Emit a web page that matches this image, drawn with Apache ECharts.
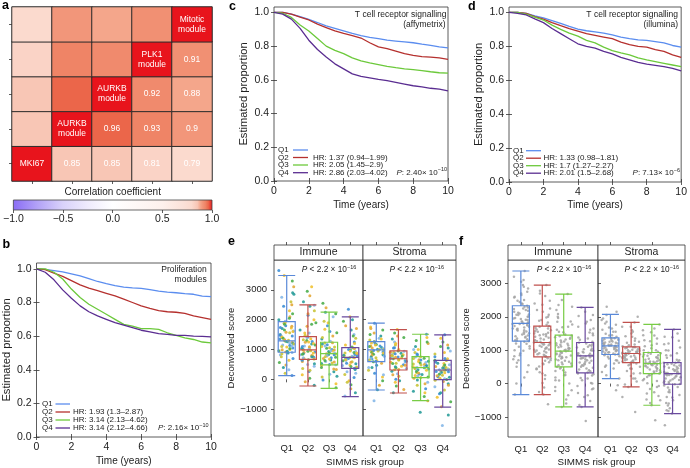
<!DOCTYPE html>
<html><head><meta charset="utf-8">
<script src="https://cdn.jsdelivr.net/npm/echarts@6/dist/echarts.min.js"></script>
<style>html,body{margin:0;padding:0;background:#fff}#c{width:690px;height:468px}</style>
</head><body><div id="c"></div>
<script>
// ---------------- DATA ----------------
// Panel a: correlation matrix (row i from bottom, column j from left)
const moduleNames = ['MKI67', 'AURKB\nmodule', 'AURKB\nmodule', 'PLK1\nmodule', 'Mitotic\nmodule'];
const corrRow0 = [1.00, 0.85, 0.85, 0.81, 0.79];
const corrRow1 = [0.85, 1.00, 0.96, 0.93, 0.90];
const corrRow2 = [0.85, 0.96, 1.00, 0.92, 0.88];
const corrRow3 = [0.81, 0.93, 0.92, 1.00, 0.91];
const corrRow4 = [0.79, 0.90, 0.88, 0.91, 1.00];
const colorbarTicks = [-1, -0.5, 0, 0.5, 1];
const colorStopValues = [-1, -0.75, -0.5, -0.25, 0, 0.5, 0.7, 0.79, 0.85, 0.88, 0.9, 0.93, 0.96, 1];
const colorStopColors = ['#8a6cf5', '#b3a3f7', '#d9d2fb', '#efebfd', '#ffffff', '#fdf0ec', '#fbe2d9', '#fbdace', '#f8c6b5', '#f4a68b', '#f2967a', '#ef8466', '#eb664a', '#e8141c'];

// Panels b-d: Kaplan-Meier curves
const years = [0,0.5,1,1.5,2,2.5,3,3.5,4,4.5,5,5.5,6,6.5,7,7.5,8,8.5,9,9.5,10];
const kmXTicks = [0, 2, 4, 6, 8, 10];
const kmYTicks = [0, 0.2, 0.4, 0.6, 0.8, 1.0];
const groups = ['Q1', 'Q2', 'Q3', 'Q4'];
const bQ1 = [1,.997,.99,.982,.97,.958,.942,.925,.912,.9,.892,.887,.884,.876,.868,.862,.858,.853,.849,.838,.835];
const bQ2 = [1,.995,.975,.955,.93,.905,.885,.87,.855,.84,.82,.80,.78,.765,.752,.745,.742,.735,.72,.71,.70];
const bQ3 = [1,1,.98,.94,.88,.83,.79,.76,.73,.70,.67,.66,.645,.645,.64,.62,.605,.59,.58,.565,.56];
const bQ4 = [1,.98,.935,.875,.825,.78,.745,.72,.70,.68,.665,.65,.635,.625,.615,.61,.605,.605,.60,.598,.595];
const cQ1 = [1,1,.99,.975,.958,.94,.92,.905,.89,.875,.862,.852,.845,.835,.83,.825,.82,.812,.805,.795,.79];
const cQ2 = [1,1,.99,.972,.955,.93,.91,.89,.875,.862,.848,.82,.795,.785,.77,.755,.745,.738,.735,.73,.722];
const cQ3 = [1,.995,.97,.925,.89,.845,.80,.775,.755,.73,.712,.70,.69,.68,.672,.665,.66,.655,.648,.642,.64];
const cQ4 = [1,.99,.96,.905,.835,.78,.735,.695,.665,.635,.62,.612,.603,.595,.585,.575,.565,.558,.55,.545,.535];
const dQ1 = [1,1,.995,.98,.968,.952,.935,.918,.902,.892,.885,.878,.868,.855,.845,.838,.835,.828,.82,.805,.795];
const dQ2 = [1,1,.995,.975,.96,.94,.922,.905,.89,.875,.865,.855,.845,.825,.81,.80,.795,.78,.77,.75,.735];
const dQ3 = [1,1,.99,.972,.955,.925,.90,.878,.86,.835,.82,.795,.775,.762,.75,.732,.72,.71,.70,.69,.68];
const dQ4 = [1,.995,.985,.962,.94,.905,.875,.845,.815,.80,.79,.77,.755,.735,.72,.705,.695,.688,.68,.67,.655];
const hrB = ['', 'HR: 1.93 (1.3\u20132.87)', 'HR: 3.14 (2.13\u20134.62)', 'HR: 3.14 (2.12\u20134.66)'];
const hrC = ['', 'HR: 1.37 (0.94\u20131.99)', 'HR: 2.05 (1.45\u20132.9)', 'HR: 2.86 (2.03\u20134.02)'];
const hrD = ['', 'HR: 1.33 (0.98\u20131.81)', 'HR: 1.7 (1.27\u20132.27)', 'HR: 2.01 (1.5\u20132.68)'];

// Panels e-f: box plots [min, Q1, median, Q3, max]
const eYTicks = [-1000, 0, 1000, 2000, 3000];
const fYTicks = [-1000, 0, 1000, 2000, 3000];
const eImmuneBox = [[123,907,1290,1937,3480],[-224,672,990,1433,2496],[-302,481,862,1243,2250],[-582,369,739,1063,2093]];
const eStromaBox = [[-358,593,985,1265,1881],[-459,313,690,951,1668],[-716,56,392,761,1511],[-929,-11,313,638,1489]];
const fImmuneBox = [[-330,1270,1800,2330,3370],[-330,800,1230,1720,2950],[-700,500,970,1450,2680],[-700,320,830,1230,2280]];
const fStromaBox = [[150,870,1130,1370,2070],[-100,630,900,1100,1830],[-650,300,600,930,1770],[-900,-20,300,630,1620]];
// jittered points (approximate readings)
const eImmQ1 = [3650,3480,3300,3100,2900,2750,2600,2450,2300,2200,2100,2000,1950,1880,1800,1720,1650,1580,1500,1450,1400,1350,1300,1280,1240,1200,1150,1100,1050,1000,960,920,880,820,760,700,640,560,480,400,320,200,130,
  1900,1850,1780,1700,1620,1560,1480,1420,1380,1330,1260,1220,1180,1130,1080,1030,990,940,900,860,1450,1600,2050,2500,2850,1120,1310,1740];
const eImmQ2 = [3100,2950,2800,2600,2480,2300,2150,2000,1900,1780,1650,1550,1480,1420,1360,1300,1240,1180,1120,1060,1010,980,940,900,860,820,780,740,700,660,600,520,440,360,260,150,40,-80,-200,
  1400,1330,1270,1200,1150,1090,1040,1000,960,920,880,840,800,760,720,680,640,1550,1850,2200,2450,500,300,1100,1250];
const eImmQ3 = [2550,2400,2250,2100,1950,1800,1680,1560,1450,1350,1280,1220,1160,1100,1040,980,930,880,850,820,780,740,700,650,600,550,500,460,400,330,250,170,80,-20,-150,-280,
  1230,1180,1120,1060,1000,950,900,860,830,800,760,720,680,630,580,530,490,1400,1600,1900,2200,350,100,960,1080];
const eImmQ4 = [2350,2100,1950,1800,1650,1500,1380,1250,1150,1080,1030,980,930,880,830,790,750,720,680,640,590,540,480,430,380,330,250,160,60,-50,-180,-320,-450,-560,
  1050,1000,950,900,860,810,770,730,700,660,620,570,520,460,410,370,1200,1450,1700,2000,200,-100,780,880];
const eStrQ1 = [1880,1750,1650,1550,1450,1380,1320,1270,1220,1170,1120,1070,1030,1000,970,940,900,860,820,770,720,680,630,590,540,470,400,300,200,80,-50,-200,-350,-720,
  1260,1200,1150,1100,1050,1010,980,950,920,880,840,800,750,700,650,610,1350,1500,1700,400,150,1000,1120];
const eStrQ2 = [1670,1550,1450,1350,1250,1150,1060,1000,950,910,870,830,790,750,720,690,660,620,580,540,490,440,390,330,270,190,100,0,-100,-220,-340,-450,
  940,900,860,820,780,740,710,680,650,610,570,530,470,420,360,320,1050,1200,1400,150,-50,700,800];
const eStrQ3 = [1510,1400,1300,1200,1100,1000,900,820,760,710,660,610,560,510,460,420,390,360,320,280,230,180,130,80,40,-20,-100,-200,-320,-450,-580,-720,-1100,
  750,700,650,600,550,500,450,410,380,350,300,260,210,160,110,60,850,1000,1250,-150,-400,400,480];
const eStrQ4 = [1490,1380,1250,1150,1050,950,850,760,690,640,590,540,490,440,390,350,310,270,230,190,140,90,40,-10,-70,-150,-250,-360,-480,-600,-750,-920,-1200,-1550,
  630,580,530,480,430,380,340,300,260,220,170,120,70,20,-30,700,900,1100,-200,-450,320,400,250];
const fImmQ1 = [3370,3200,3050,2950,2850,2750,2650,2580,2500,2440,2380,2330,2280,2230,2180,2120,2070,2010,1960,1910,1860,1820,1780,1740,1700,1650,1600,1560,1510,1470,1420,1380,1330,1290,1250,1190,1120,1050,980,900,820,730,620,500,350,180,0,-330,
  2300,2250,2200,2150,2100,2050,2000,1950,1900,1850,1800,1760,1720,1680,1640,1590,1540,1490,1440,1400,1350,1300,1270,2400,2480,2600,2700,2900,3100,1200,1100,1000,850,700,550,1830,1780,1620,2060,1930];
const fImmQ2 = [2950,2780,2620,2480,2360,2250,2150,2060,1980,1900,1830,1760,1720,1670,1620,1570,1520,1470,1420,1370,1320,1270,1230,1190,1150,1100,1060,1010,970,930,880,840,800,750,700,640,580,510,430,340,250,140,20,-120,-250,-330,-620,
  1700,1650,1600,1550,1500,1450,1400,1350,1300,1250,1210,1170,1130,1080,1040,990,950,910,860,820,1880,2000,2200,2400,2700,760,680,600,450,300,1230,1280,1180,1480,1020];
const fImmQ3 = [2680,2500,2350,2200,2080,1960,1860,1770,1690,1610,1540,1470,1420,1370,1320,1260,1210,1160,1110,1060,1010,970,930,880,840,790,750,700,650,600,550,500,450,400,330,260,180,90,0,-100,-220,-350,-480,-600,-700,
  1440,1390,1340,1290,1240,1190,1140,1090,1040,1000,960,920,870,820,770,720,680,630,580,530,1550,1700,1850,2000,2300,480,380,250,100,-200,990,1060,900,1150,800];
const fImmQ4 = [2280,2150,2020,1900,1800,1700,1610,1530,1450,1380,1310,1250,1200,1150,1100,1050,1000,950,910,870,830,790,750,700,650,600,550,500,450,400,350,300,240,170,100,20,-70,-170,-280,-400,-520,-640,-700,-1120,
  1220,1180,1130,1080,1030,980,930,890,850,810,770,730,680,630,580,530,470,420,370,330,1350,1500,1650,1850,2050,280,150,0,-150,-350,840,900,760,1000,620];
const fStrQ1 = [2300,2150,2050,1950,1850,1760,1680,1610,1550,1490,1440,1400,1360,1330,1290,1260,1230,1200,1170,1140,1120,1090,1060,1030,1000,970,940,910,880,850,800,750,690,620,540,450,350,250,150,-50,-200,
  1360,1340,1310,1280,1250,1220,1190,1160,1130,1110,1080,1050,1020,990,960,930,900,870,1450,1550,1650,1800,1900,820,700,600,500,1130,1170,1210,1080,1000];
const fStrQ2 = [2000,1830,1700,1600,1500,1420,1350,1280,1220,1170,1120,1090,1060,1030,1000,970,940,920,900,880,850,820,790,760,730,700,670,640,600,550,500,440,380,310,230,150,60,-30,-100,-400,-850,
  1090,1070,1040,1010,980,960,930,910,890,870,840,810,780,750,720,690,660,630,1150,1250,1400,1550,1700,580,450,300,150,900,920,950,860,800];
const fStrQ3 = [1770,1650,1540,1440,1350,1270,1190,1120,1060,1000,950,910,870,830,790,750,710,670,640,610,580,550,520,480,440,400,360,320,290,250,200,140,80,10,-70,-160,-260,-370,-480,-580,-650,-1100,
  920,890,850,810,780,740,700,660,630,600,570,540,500,460,420,380,340,300,1000,1150,1300,1450,1600,250,100,-100,-300,-500,600,620,650,560];
const fStrQ4 = [1620,1500,1390,1280,1180,1080,990,910,840,770,710,660,620,580,540,500,460,420,380,340,300,260,230,190,150,110,70,30,-10,-60,-120,-190,-260,-340,-420,-500,-580,-660,-740,-820,-900,-1250,
  620,590,550,510,470,430,400,360,320,280,250,210,170,130,90,50,10,-20,700,850,1000,1200,1400,-100,-250,-400,-600,-800,300,320,280,350];

// ---------------- STYLE ----------------
const FONT = "'Liberation Sans', Arial, Helvetica, sans-serif";
const INK = '#222';
const qColors = ['#5b8def', '#b5302e', '#6cc93b', '#5a2d91'];
const boxColors = ['#5a89d8', '#c0504d', '#78cc45', '#6a4a9e'];
const ptColors = ['#3d8fd6', '#f1c232', '#4cae4c', '#e3a93a', '#2a9d9a', '#86b8e8', '#c9c43a'];

function hex2rgb(h){return [parseInt(h.substr(1,2),16),parseInt(h.substr(3,2),16),parseInt(h.substr(5,2),16)];}
function colorAt(v){
  for (let k = 0; k < colorStopValues.length - 1; k++) {
    const a = colorStopValues[k], b = colorStopValues[k+1];
    if (v >= a && v <= b) {
      const t = (v - a) / (b - a), c1 = hex2rgb(colorStopColors[k]), c2 = hex2rgb(colorStopColors[k+1]);
      return 'rgb(' + c1.map((x,i)=>Math.round(x + (c2[i]-x)*t)).join(',') + ')';
    }
  }
  return colorStopColors[colorStopColors.length-1];
}

const grids = [], xAxes = [], yAxes = [], series = [], graphics = [];
const addGrid = g => (grids.push(g), grids.length - 1);
const addX = a => (xAxes.push(a), xAxes.length - 1);
const addY = a => (yAxes.push(a), yAxes.length - 1);
const tick = (extra) => Object.assign({show:true, inside:false, length:3, lineStyle:{color:'#333', width:0.8}}, extra||{});
const lbl = (extra) => Object.assign({fontFamily:FONT, fontSize:10, color:INK}, extra||{});
const nameStyle = (extra) => Object.assign({fontFamily:FONT, fontSize:10, color:INK}, extra||{});
const noLine = {show:false}, noSplit = {show:false};
const minusFmt = v => String(v).replace('-', '\u2212');

// ---------------- PANEL a ----------------
const corr = [corrRow0, corrRow1, corrRow2, corrRow3, corrRow4];
const ga = addGrid({left:12, top:7, width:200, height:174});
const xa = addX({type:'category', gridIndex:ga, data:['0','1','2','3','4'], axisLine:noLine, axisTick:tick({alignWithLabel:true}), axisLabel:{show:false}, splitLine:noSplit});
const ya = addY({type:'category', gridIndex:ga, data:['0','1','2','3','4'], axisLine:noLine, axisTick:tick({alignWithLabel:true}), axisLabel:{show:false}, splitLine:noSplit});
const heatData = [];
corr.forEach((row, i) => row.forEach((v, j) => {
  heatData.push({value:[j, i, v], label:{show: j >= i, formatter: j === i ? moduleNames[i] : String(v)}});
}));
series.push({type:'heatmap', xAxisIndex:xa, yAxisIndex:ya, data:heatData,
  itemStyle:{borderColor:'#2b2b2b', borderWidth:1},
  label:{color:'#fff', fontFamily:FONT, fontSize:8.5, lineHeight:10},
  emphasis:{disabled:true}, silent:true});
const sampled = [];
for (let k = 0; k <= 200; k++) sampled.push(colorAt(-1 + k * 0.01));

const gradStops = colorStopValues.map((v,k)=>({offset:(v+1)/2, color:colorStopColors[k]}));
const gcb = addGrid({left:12, top:200, width:200, height:10, show:true,
  backgroundColor: new echarts.graphic.LinearGradient(0,0,1,0,gradStops), borderColor:'#444', borderWidth:0.8});
addX({type:'value', gridIndex:gcb, min:-1, max:1, axisLine:noLine, splitLine:noSplit,
  axisTick:tick({customValues:colorbarTicks}),
  axisLabel:lbl({fontSize:10.5, margin:4, customValues:colorbarTicks, formatter:v => (v < 0 ? '\u2212' : '') + Math.abs(v).toFixed(1)})});
addX({type:'value', gridIndex:gcb, min:-1, max:1, position:'top', axisLine:noLine, axisTick:{show:false}, axisLabel:{show:false}, splitLine:noSplit,
  name:'Correlation coefficient', nameLocation:'middle', nameGap:3, nameTextStyle:nameStyle()});
addY({type:'value', gridIndex:gcb, min:0, max:1, show:false});

// ---------------- PANELS b, c, d ----------------
function kmPanel(rect, ymax, curves, labelMargin, yNameGap, xNameGap){
  const gi = addGrid(Object.assign({show:true, borderColor:'#333', borderWidth:0.8, backgroundColor:'transparent'}, rect));
  const xb = addX({type:'value', gridIndex:gi, min:0, max:10, position:'bottom', axisLine:noLine, splitLine:noSplit,
    axisTick:tick({customValues:kmXTicks}), axisLabel:lbl({margin:5, fontSize:10.5, customValues:kmXTicks}),
    name:'Time (years)', nameLocation:'middle', nameGap:xNameGap, nameTextStyle:nameStyle()});
  addX({type:'value', gridIndex:gi, min:0, max:10, position:'top', axisLine:noLine, splitLine:noSplit,
    axisTick:tick({customValues:kmXTicks}), axisLabel:{show:false}});
  const yl = addY({type:'value', gridIndex:gi, min:0, max:ymax, position:'left', axisLine:noLine, splitLine:noSplit,
    axisTick:tick({customValues:kmYTicks}), axisLabel:lbl({margin:labelMargin, fontSize:10.5, customValues:kmYTicks, formatter:v => v.toFixed(1)}),
    name:'Estimated proportion', nameLocation:'middle', nameGap:yNameGap, nameTextStyle:nameStyle({fontSize:11.2})});
  addY({type:'value', gridIndex:gi, min:0, max:ymax, position:'right', axisLine:noLine, splitLine:noSplit,
    axisTick:tick({customValues:kmYTicks}), axisLabel:{show:false}});
  curves.forEach((arr, k) => series.push({type:'line', name:groups[k], xAxisIndex:xb, yAxisIndex:yl,
    data: years.map((t, i) => [t, arr[i]]), showSymbol:false, symbol:'none', silent:true, z:3,
    lineStyle:{color:qColors[k], width:1.3}, itemStyle:{color:qColors[k]}}));
}
kmPanel({left:36, top:263, width:175, height:174}, 1.035, [bQ1,bQ2,bQ3,bQ4], 5, 24.5, 19);
kmPanel({left:274, top:7, width:174, height:174}, 1.032, [cQ1,cQ2,cQ3,cQ4], 5, 24.5, 19);
kmPanel({left:509, top:7, width:175, height:175}, 1.032, [dQ1,dQ2,dQ3,dQ4], 5, 24.5, 18.5);

function txt(x, y, text, extra){
  graphics.push({type:'text', x:x, y:y, silent:true, style:Object.assign({text:text, fontFamily:FONT, fontSize:8, fill:INK, align:'left', verticalAlign:'middle'}, extra||{})});
}
function kmLegend(qx, lx0, lx1, hx, ys, hrs){
  groups.forEach((g, k) => {
    txt(qx, ys[k], g);
    graphics.push({type:'line', silent:true, shape:{x1:lx0, y1:ys[k], x2:lx1, y2:ys[k]}, style:{stroke:qColors[k], lineWidth:1.3}});
    if (hrs[k]) txt(hx, ys[k], hrs[k]);
  });
}
function pText(x, y, base, sup, align, fs){
  fs = fs || 8;
  txt(x, y, '{i|P}' + base + '{s|' + sup + '}', {align:align, fontSize:fs, lineHeight:12,
    rich:{i:{fontStyle:'italic', fontFamily:FONT, fontSize:fs, fill:INK}, s:{fontFamily:FONT, fontSize:5.5, lineHeight:6, verticalAlign:'top', fill:INK}}});
}
kmLegend(42, 55.5, 70, 73, [404, 412, 420, 428], hrB);
kmLegend(278, 293, 308, 313, [150, 157.5, 165, 172.7], hrC);
kmLegend(513, 526, 541, 543.5, [150.7, 158.2, 165.7, 173.2], hrD);
pText(208.5, 428, ': 2.16\u00d7 10', '\u221210', 'right');
pText(447, 172.7, ': 2.40\u00d7 10', '\u221210', 'right');
pText(680, 173.2, ': 7.13\u00d7 10', '\u22126', 'right');
txt(206.7, 269.5, 'Proliferation', {align:'right', fontSize:8.5});
txt(206.7, 280, 'modules', {align:'right', fontSize:8.5});
txt(446.5, 15, 'T cell receptor signalling', {align:'right', fontSize:8.5});
txt(445.5, 25, '(affymetrix)', {align:'right', fontSize:8.5});
txt(678, 15, 'T cell receptor signalling', {align:'right', fontSize:8.5});
txt(678, 25, '(illumina)', {align:'right', fontSize:8.5});

// ---------------- PANELS e, f ----------------
function boxSide(frame, yMin, yMax, yTicks, boxes, pts, side, opt){
  const gf = addGrid(Object.assign({show:true, borderColor:'#333', borderWidth:0.8, backgroundColor:'transparent'}, frame));
  addX({type:'value', gridIndex:gf, min:0, max:1, show:false});
  const yAx = {type:'value', gridIndex:gf, min:yMin, max:yMax, position: side === 'left' ? 'left' : 'right', axisLine:noLine, splitLine:noSplit,
    axisTick:tick({customValues:yTicks}), axisLabel:{show:false}};
  if (side === 'left') {
    yAx.axisLabel = lbl({margin:opt.labelMargin, fontSize:9.5, customValues:yTicks, formatter:minusFmt});
    yAx.name = 'Deconvolved score'; yAx.nameLocation = 'middle'; yAx.nameGap = opt.nameGap; yAx.nameTextStyle = nameStyle({fontSize:9.5});
  }
  addY(yAx);
  const ins = frame.width / 42;
  const gd = addGrid({left:frame.left + ins, top:frame.top, width:frame.width - 2*ins, height:frame.height});
  const xd = addX({type:'category', gridIndex:gd, data:groups, axisLine:noLine, splitLine:noSplit,
    axisTick:tick({alignWithLabel:true}), axisLabel:lbl({margin:7, fontSize:9.5}), jitter:opt.jitter, jitterOverlap:true});
  addX({type:'category', gridIndex:gd, data:groups, position:'top', offset:15, axisLine:noLine, splitLine:noSplit,
    axisTick:tick({alignWithLabel:true}), axisLabel:{show:false}});
  const yd = addY({type:'value', gridIndex:gd, min:yMin, max:yMax, show:false});
  const scData = [];
  pts.forEach((arr, k) => arr.forEach(v => scData.push([groups[k], v])));
  series.push({type:'scatter', xAxisIndex:xd, yAxisIndex:yd, data:scData, symbolSize:opt.size, silent:true, z:2,
    itemStyle: opt.gray ? {color:'#a3a3a3', opacity:0.85} : {color: p => ptColors[p.dataIndex % ptColors.length], opacity:0.9}});
  series.push({type:'boxplot', xAxisIndex:xd, yAxisIndex:yd, boxWidth:[17,17], silent:true, z:3,
    data: boxes.map((b, k) => ({value:b, itemStyle:{borderColor:boxColors[k], color:'rgba(255,255,255,0)', borderWidth:1.2}})),
    emphasis:{disabled:true}});
  graphics.push({type:'rect', silent:true, shape:{x:frame.left, y:245, width:frame.width, height:15}, style:{fill:'#fff', stroke:'#333', lineWidth:0.8}});
  txt(frame.left + frame.width/2, 252.5, opt.strip, {align:'center', fontSize:10.5});
  pText(opt.px, 270, ' < 2.2 \u00d7 10', '\u221216', 'center', 8.3);
}
boxSide({left:274, top:260, width:89, height:176}, -1900, 4000, eYTicks, eImmuneBox, [eImmQ1,eImmQ2,eImmQ3,eImmQ4], 'left',
  {labelMargin:7, nameGap:37, jitter:16, size:3, strip:'Immune', px:329});
boxSide({left:363, top:260, width:93, height:176}, -1900, 4000, eYTicks, eStromaBox, [eStrQ1,eStrQ2,eStrQ3,eStrQ4], 'right',
  {jitter:16, size:3, strip:'Stroma', px:416.7});
boxSide({left:508, top:260, width:90, height:177}, -1600, 3700, fYTicks, fImmuneBox, [fImmQ1,fImmQ2,fImmQ3,fImmQ4], 'left',
  {labelMargin:6.5, nameGap:33, jitter:18, size:2.5, gray:true, strip:'Immune', px:564});
boxSide({left:598, top:260, width:87, height:177}, -1600, 3700, fYTicks, fStromaBox, [fStrQ1,fStrQ2,fStrQ3,fStrQ4], 'right',
  {jitter:18, size:2.5, gray:true, strip:'Stroma', px:651.7});
txt(365, 462, 'SIMMS risk group', {align:'center', fontSize:9.8});
txt(596.5, 462.5, 'SIMMS risk group', {align:'center', fontSize:9.8});

// panel letters
[['a',2,6],['b',2.5,245],['c',229,6.5],['d',468,6.5],['e',228,242],['f',459,242]].forEach(([t,x,y]) =>
  txt(x, y, t, {fontSize:12.5, fontWeight:'bold', fill:'#000'}));

const chart = echarts.init(document.getElementById('c'), null, {renderer:'canvas'});
chart.setOption({
  animation:false,
  backgroundColor:'#fff',
  textStyle:{fontFamily:FONT},
  grid:grids, xAxis:xAxes, yAxis:yAxes,
  visualMap:[{type:'continuous', min:-1, max:1, seriesIndex:0, show:false, inRange:{color:sampled}}],
  series:series,
  graphic:graphics
});
</script></body></html>
